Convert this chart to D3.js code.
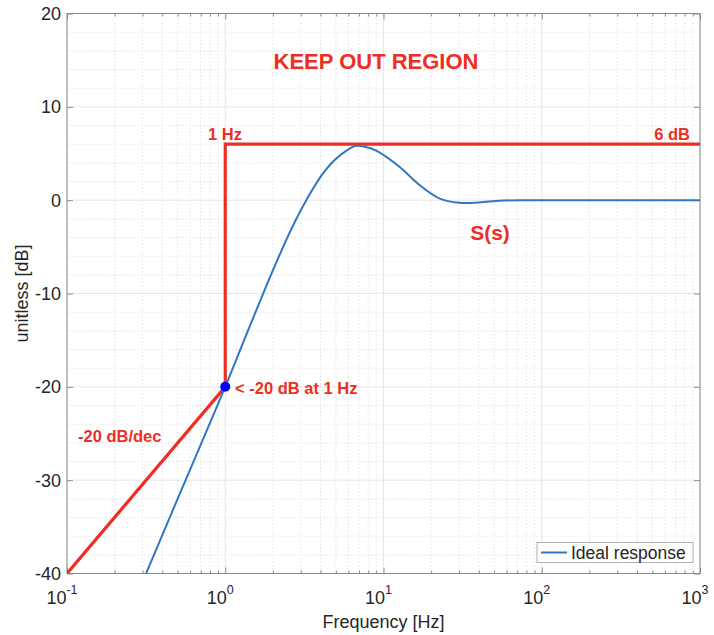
<!DOCTYPE html>
<html>
<head>
<meta charset="utf-8">
<script src="https://cdn.jsdelivr.net/npm/d3@7"></script>
<style>
  body { margin: 0; background: #fff; }
  svg { font-family: "Liberation Sans", Arial, sans-serif; }
  .red { fill: #ee2e24; font-weight: bold; }
</style>
</head>
<body>
<svg id="chart" width="714" height="635"></svg>
<script>
// ---- data ----
const xTicks = [0.1, 1, 10, 100, 1000];
const xTickExp = ["-1", "0", "1", "2", "3"];
const yTicks = [-40, -30, -20, -10, 0, 10, 20];

// ideal response S(s), frequency [Hz] and magnitude [dB]
const respFreq = [0.3, 0.4, 0.5, 0.7, 1.0, 1.33, 1.775, 2.26, 2.74, 3.33, 4.04, 4.91, 6.0, 6.73, 7.5, 9.0, 12.6, 16.9, 22.5, 30.2, 40.3, 54, 72, 100, 200, 500, 1000];
const respDb   = [-40.9, -35.9, -32.0, -26.2, -20.0, -14.8, -9.6, -5.45, -2.4, 0.3, 2.6, 4.3, 5.45, 5.83, 5.75, 5.3, 3.58, 1.62, 0.2, -0.28, -0.24, -0.06, 0.0, 0.0, 0.0, 0.0, 0.0];

// keep-out boundary
const boundFreq = [0.1, 1, 1, 1000];
const boundDb   = [-40, -20, 6, 6];

const margin = {left: 67, right: 14, top: 13.5, bottom: 61.5};
const W = 714, H = 635;

const svg = d3.select("#chart");
const x = d3.scaleLog().domain([0.1, 1000]).range([margin.left, W - margin.right]);
const y = d3.scaleLinear().domain([-40, 20]).range([H - margin.bottom, margin.top]);

const x0 = x.range()[0], x1 = x.range()[1], y0 = y.range()[0], y1 = y.range()[1];

// minor values
const xMinor = [];
xTicks.slice(0, -1).forEach(d => { for (let k = 2; k <= 9; k++) xMinor.push(d * k); });
const yMinor = d3.range(-40, 20.01, 2).filter(v => v % 10 !== 0);

const grid = svg.append("g");
grid.selectAll(".xmin").data(xMinor).enter().append("line")
    .attr("x1", d => x(d)).attr("x2", d => x(d)).attr("y1", y0).attr("y2", y1)
    .attr("stroke", "#e4e4e4").attr("stroke-dasharray", "1.5,2");
grid.selectAll(".ymin").data(yMinor).enter().append("line")
    .attr("x1", x0).attr("x2", x1).attr("y1", d => y(d)).attr("y2", d => y(d))
    .attr("stroke", "#e4e4e4").attr("stroke-dasharray", "1.5,2");
grid.selectAll(".xmaj").data(xTicks).enter().append("line")
    .attr("x1", d => x(d)).attr("x2", d => x(d)).attr("y1", y0).attr("y2", y1)
    .attr("stroke", "#e6e6e6");
grid.selectAll(".ymaj").data(yTicks).enter().append("line")
    .attr("x1", x0).attr("x2", x1).attr("y1", d => y(d)).attr("y2", d => y(d))
    .attr("stroke", "#e6e6e6");

// axes with inward ticks (box style)
const axisCol = "#8c8c8c";
function styleAxis(g) {
  g.select(".domain").remove();
  g.selectAll(".tick line").attr("stroke", axisCol);
  g.selectAll("text").remove();
}
svg.append("g").attr("transform", `translate(0,${y0})`)
   .call(d3.axisBottom(x).tickValues(xTicks).tickSize(-6)).call(styleAxis);
svg.append("g").attr("transform", `translate(0,${y0})`)
   .call(d3.axisBottom(x).tickValues(xMinor).tickSize(-3)).call(styleAxis);
svg.append("g").attr("transform", `translate(0,${y1})`)
   .call(d3.axisTop(x).tickValues(xTicks).tickSize(-6)).call(styleAxis);
svg.append("g").attr("transform", `translate(0,${y1})`)
   .call(d3.axisTop(x).tickValues(xMinor).tickSize(-3)).call(styleAxis);
svg.append("g").attr("transform", `translate(${x0},0)`)
   .call(d3.axisLeft(y).tickValues(yTicks).tickSize(-6)).call(styleAxis);
svg.append("g").attr("transform", `translate(${x1},0)`)
   .call(d3.axisRight(y).tickValues(yTicks).tickSize(-6)).call(styleAxis);

svg.append("rect").attr("x", x0).attr("y", y1).attr("width", x1 - x0).attr("height", y0 - y1)
   .attr("fill", "none").attr("stroke", axisCol);

// tick labels
svg.selectAll(".ylab").data(yTicks).enter().append("text")
   .attr("x", x0 - 6).attr("y", d => y(d) + 6.5)
   .attr("text-anchor", "end").attr("font-size", 18).attr("fill", "#262626")
   .text(d => d);
const xl = svg.selectAll(".xlab").data(xTicks).enter().append("text")
   .attr("x", d => x(d) - 5).attr("y", y0 + 30)
   .attr("text-anchor", "middle").attr("font-size", 18).attr("fill", "#262626");
xl.append("tspan").text("10");
xl.append("tspan").attr("dy", -10).attr("font-size", 12.5).text((d, i) => xTickExp[i]);

// axis titles
svg.append("text").attr("x", (x0 + x1) / 2).attr("y", 628).attr("text-anchor", "middle")
   .attr("font-size", 18).attr("fill", "#262626").text("Frequency [Hz]");
svg.append("text").attr("transform", `translate(28,${(y0 + y1) / 2}) rotate(-90)`)
   .attr("text-anchor", "middle").attr("font-size", 18).attr("fill", "#262626").text("unitless [dB]");

// plot contents
const clip = svg.append("clipPath").attr("id", "clip").append("rect")
   .attr("x", x0).attr("y", y1).attr("width", x1 - x0).attr("height", y0 - y1);
const plot = svg.append("g").attr("clip-path", "url(#clip)");

const boundLine = d3.line().x((d, i) => x(boundFreq[i])).y(d => y(d));
plot.append("path").datum(boundDb).attr("d", boundLine)
   .attr("fill", "none").attr("stroke", "#ee2e24").attr("stroke-width", 3.2);

const respLine = d3.line().x((d, i) => x(respFreq[i])).y(d => y(d)).curve(d3.curveCatmullRom.alpha(0.5));
plot.append("path").datum(respDb).attr("d", respLine)
   .attr("fill", "none").attr("stroke", "#2f78bf").attr("stroke-width", 2);

svg.append("circle").attr("cx", x(1)).attr("cy", y(-20)).attr("r", 5).attr("fill", "#0000ff");

// annotations
svg.append("text").attr("class", "red").attr("x", 376).attr("y", 69).attr("text-anchor", "middle")
   .attr("font-size", 22).text("KEEP OUT REGION");
svg.append("text").attr("class", "red").attr("x", 208).attr("y", 140).attr("font-size", 16.5).text("1 Hz");
svg.append("text").attr("class", "red").attr("x", 690).attr("y", 140).attr("text-anchor", "end")
   .attr("font-size", 16.5).text("6 dB");
svg.append("text").attr("class", "red").attr("x", 490).attr("y", 240).attr("text-anchor", "middle")
   .attr("font-size", 21).text("S(s)");
svg.append("text").attr("class", "red").attr("x", 235).attr("y", 394).attr("font-size", 16.5)
   .text("< -20 dB at 1 Hz");
svg.append("text").attr("class", "red").attr("x", 78).attr("y", 442).attr("font-size", 16.5)
   .text("-20 dB/dec");

// legend
const lg = svg.append("g");
lg.append("rect").attr("x", 537).attr("y", 542.5).attr("width", 156).attr("height", 20)
  .attr("fill", "#fff").attr("stroke", "#b0b0b0");
lg.append("line").attr("x1", 541).attr("x2", 567).attr("y1", 552.5).attr("y2", 552.5)
  .attr("stroke", "#2f78bf").attr("stroke-width", 2);
lg.append("text").attr("x", 571).attr("y", 559).attr("font-size", 17.5).attr("fill", "#262626")
  .text("Ideal response");
</script>
</body>
</html>
